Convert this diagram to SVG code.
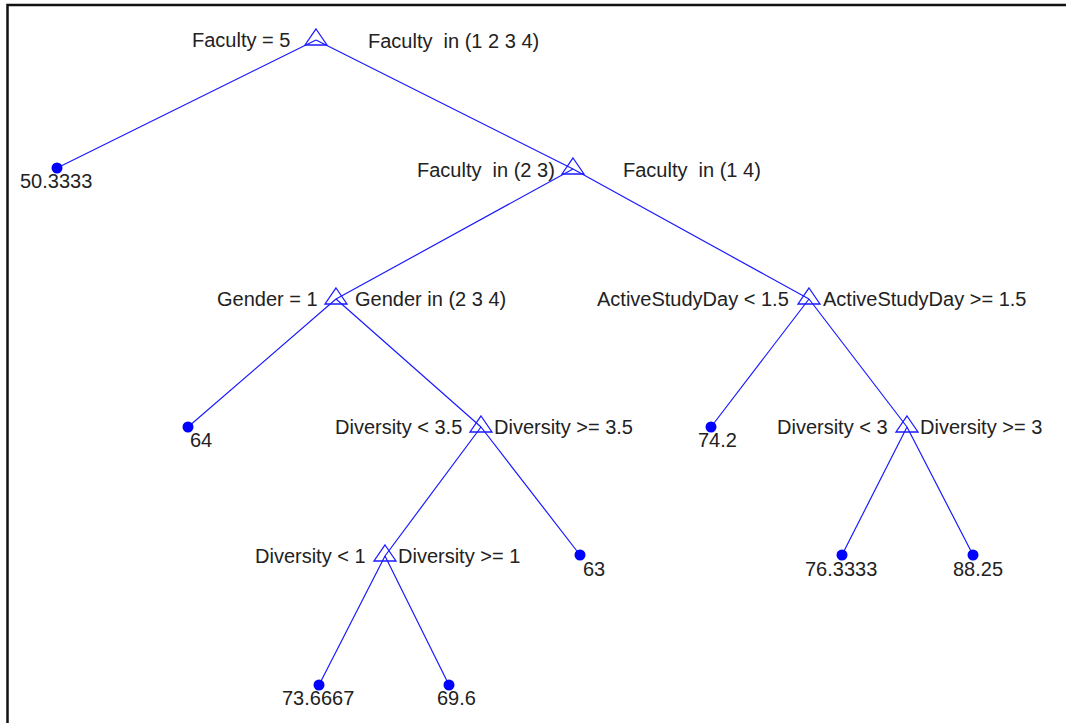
<svg xmlns="http://www.w3.org/2000/svg" width="1066" height="723" viewBox="0 0 1066 723">
<style>
.e{stroke:#1a1aff;stroke-width:1.2;fill:none}
.tri{stroke:#1a1aff;stroke-width:1.3;fill:none}
.leaf{fill:#0000ff}
text{font-family:"Liberation Sans",Arial,sans-serif;font-size:20px;fill:#222;white-space:pre}
</style>
<defs>
<path id="tri" class="tri" d="M0,-11 L11,5 L-11,5 Z"/>
</defs>
<rect width="1066" height="723" fill="#fff"/>
<path d="M7.5,723 V5 H1066" stroke="#111" stroke-width="2.5" fill="none"/>
<g id="connectors">
<path class="e" d="M316,40 L57,168 M316,40 L573,169"/>
<path class="e" d="M573,169 L336,299 M573,169 L809,299"/>
<path class="e" d="M336,299 L188,427 M336,299 L481,427"/>
<path class="e" d="M809,299 L711,427 M809,299 L907,427"/>
<path class="e" d="M481,427 L385,556 M481,427 L580,555"/>
<path class="e" d="M907,427 L842,555 M907,427 L973,555"/>
<path class="e" d="M385,556 L319,685 M385,556 L449,685"/>
</g>
<g id="n_root"><use href="#tri" x="316" y="40"/><text x="192" y="47">Faculty = 5</text><text x="368" y="48" xml:space="preserve">Faculty  in (1 2 3 4)</text></g>
<g id="n_leaf1"><circle class="leaf" cx="57" cy="168" r="5.5"/><text x="20" y="188">50.3333</text></g>
<g id="n_fac23"><use href="#tri" x="573" y="169"/><text x="417" y="177" xml:space="preserve">Faculty  in (2 3)</text><text x="623" y="177" xml:space="preserve">Faculty  in (1 4)</text></g>
<g id="n_gender"><use href="#tri" x="336" y="299"/><text x="217" y="306">Gender = 1</text><text x="355" y="306">Gender in (2 3 4)</text></g>
<g id="n_asd"><use href="#tri" x="809" y="299"/><text x="597" y="306">ActiveStudyDay &lt; 1.5</text><text x="823" y="306">ActiveStudyDay &gt;= 1.5</text></g>
<g id="n_leaf64"><circle class="leaf" cx="188" cy="427" r="5.5"/><text x="190" y="447">64</text></g>
<g id="n_div35"><use href="#tri" x="481" y="427"/><text x="335" y="434">Diversity &lt; 3.5</text><text x="494" y="434">Diversity &gt;= 3.5</text></g>
<g id="n_leaf742"><circle class="leaf" cx="711" cy="427" r="5.5"/><text x="698" y="447">74.2</text></g>
<g id="n_div3"><use href="#tri" x="907" y="427"/><text x="777" y="434">Diversity &lt; 3</text><text x="920" y="434">Diversity &gt;= 3</text></g>
<g id="n_div1"><use href="#tri" x="385" y="556"/><text x="255" y="563">Diversity &lt; 1</text><text x="398" y="563">Diversity &gt;= 1</text></g>
<g id="n_leaf63"><circle class="leaf" cx="580" cy="555" r="5.5"/><text x="583" y="576">63</text></g>
<g id="n_leaf763"><circle class="leaf" cx="842" cy="555" r="5.5"/><text x="805" y="576">76.3333</text></g>
<g id="n_leaf8825"><circle class="leaf" cx="973" cy="555" r="5.5"/><text x="953" y="576">88.25</text></g>
<g id="n_leaf7367"><circle class="leaf" cx="319" cy="685" r="5.5"/><text x="282" y="705">73.6667</text></g>
<g id="n_leaf696"><circle class="leaf" cx="449" cy="685" r="5.5"/><text x="437" y="705">69.6</text></g>
</svg>
